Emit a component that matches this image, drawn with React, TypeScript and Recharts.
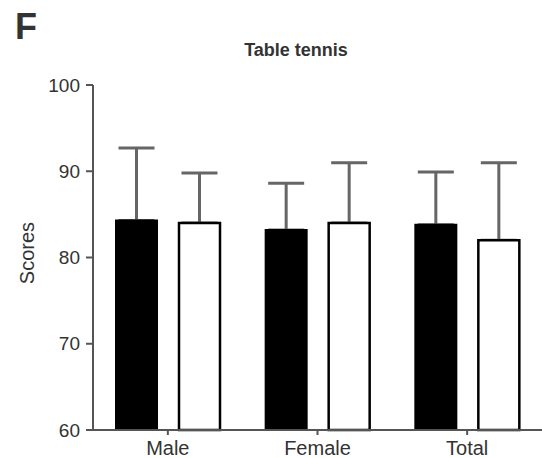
import { Bar, BarChart, ErrorBar, XAxis, YAxis } from "recharts";

const groups = ["Male", "Female", "Total"];
const blackMeans = [84.3, 83.2, 83.8];
const blackUpper = [92.7, 88.6, 89.9];
const whiteMeans = [84.0, 84.0, 82.0];
const whiteUpper = [89.8, 91.0, 91.0];
const yTicks = [60, 70, 80, 90, 100];

const data = groups.map((group, i) => ({
  group,
  black: blackMeans[i],
  blackErr: [0, +(blackUpper[i] - blackMeans[i]).toFixed(1)],
  white: whiteMeans[i],
  whiteErr: [0, +(whiteUpper[i] - whiteMeans[i]).toFixed(1)],
}));

const font = "'Liberation Sans', Arial, sans-serif";
const axisColor = "#555";
const errColor = "#666";

export default function App() {
  return (
    <div style={{ position: "relative", width: 542, height: 458, background: "#fff", fontFamily: font }}>
      <style>{"body{margin:0}"}</style>
      <div style={{ position: "absolute", left: 15, top: 6, fontSize: 36, fontWeight: "bold", color: "#333" }}>F</div>
      <div style={{ position: "absolute", left: 0, width: 592, top: 40, textAlign: "center", fontSize: 18, fontWeight: "bold", color: "#333" }}>
        Table tennis
      </div>
      <div
        style={{
          position: "absolute",
          left: 27,
          top: 253,
          transform: "translate(-50%, -50%) rotate(-90deg)",
          fontSize: 20,
          color: "#333",
          whiteSpace: "nowrap",
        }}
      >
        Scores
      </div>
      <BarChart
        width={542}
        height={458}
        data={data}
        margin={{ top: 85, right: 0, bottom: 0, left: 0 }}
        barCategoryGap={23}
        barGap={22}
        barSize={41}
        style={{ position: "absolute", left: 0, top: 0 }}
      >
        <XAxis
          dataKey="group"
          height={28}
          tickSize={5}
          tickMargin={6}
          stroke={axisColor}
          strokeWidth={2}
          tick={{ fill: "#333", fontSize: 20, fontFamily: font }}
        />
        <YAxis
          width={93}
          domain={[60, 100]}
          ticks={yTicks}
          tickSize={7}
          tickMargin={6}
          stroke={axisColor}
          strokeWidth={2}
          tick={{ fill: "#333", fontSize: 19, fontFamily: font }}
        />
        {/* error bars sit below the bars so only the upper whisker shows */}
        <Bar dataKey="black" fill="#000" stroke="#000" strokeWidth={2} isAnimationActive={false}>
          <ErrorBar dataKey="blackErr" direction="y" width={18} stroke={errColor} strokeWidth={3} zIndex={100} />
        </Bar>
        <Bar dataKey="white" fill="#fff" stroke="#000" strokeWidth={2.5} isAnimationActive={false}>
          <ErrorBar dataKey="whiteErr" direction="y" width={18} stroke={errColor} strokeWidth={3} zIndex={100} />
        </Bar>
      </BarChart>
    </div>
  );
}
